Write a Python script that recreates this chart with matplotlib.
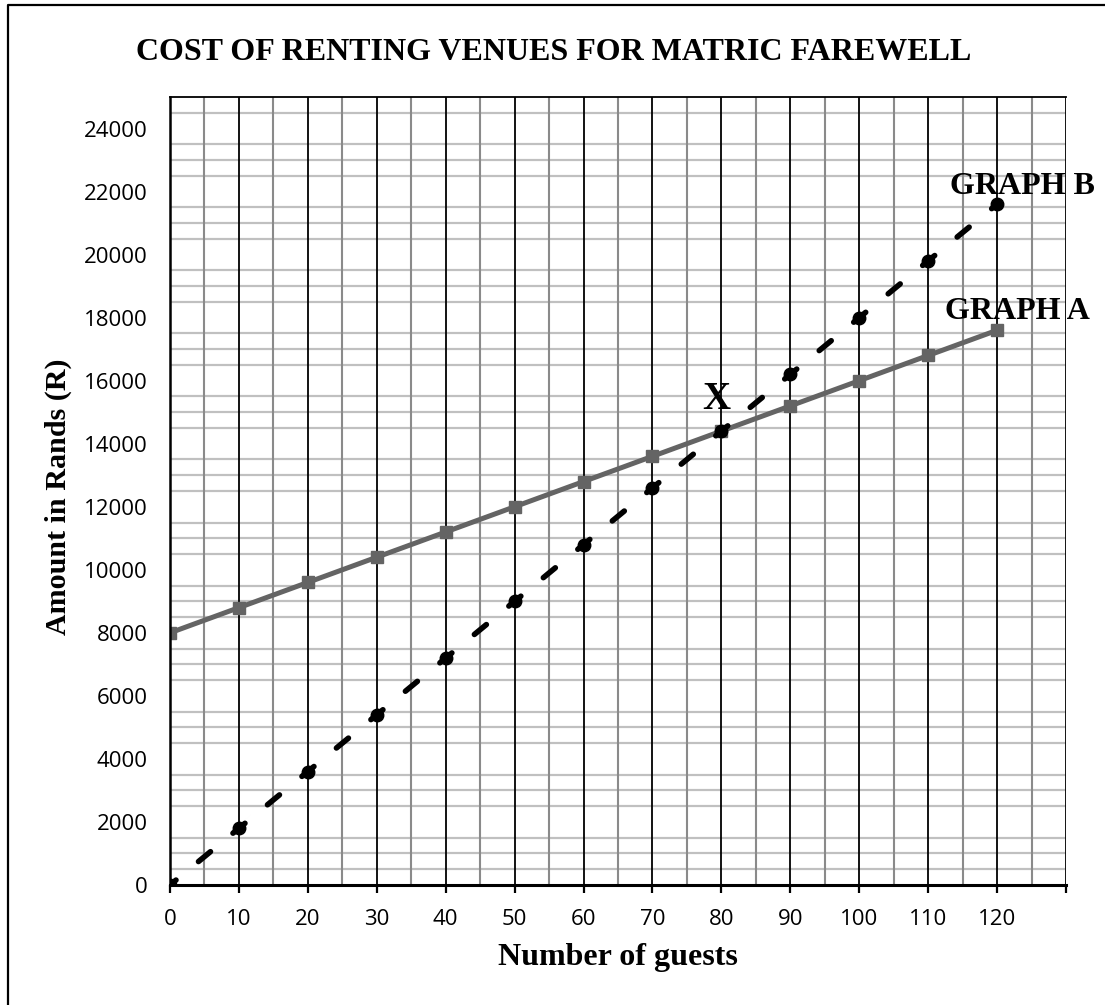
import matplotlib
matplotlib.use("Agg")
import matplotlib.pyplot as plt
from matplotlib.lines import Line2D

# ---- data ----
guests = [0, 10, 20, 30, 40, 50, 60, 70, 80, 90, 100, 110, 120]
graph_a = [8000, 8800, 9600, 10400, 11200, 12000, 12800, 13600, 14400, 15200, 16000, 16800, 17600]
graph_b = [0, 1800, 3600, 5400, 7200, 9000, 10800, 12600, 14400, 16200, 18000, 19800, 21600]
x_ticks = [0, 10, 20, 30, 40, 50, 60, 70, 80, 90, 100, 110, 120, 130]
x_tick_labels = ["0", "10", "20", "30", "40", "50", "60", "70", "80", "90", "100", "110", "120", ""]
y_ticks = [0, 2000, 4000, 6000, 8000, 10000, 12000, 14000, 16000, 18000, 20000, 22000, 24000]
y_tick_labels = [str(v) for v in y_ticks]
title = "COST OF RENTING VENUES FOR MATRIC FAREWELL"
x_label = "Number of guests"
y_label = "Amount in Rands (R)"

W, H = 1105, 1005
fig = plt.figure(figsize=(W / 100, H / 100), dpi=100)
ax = fig.add_axes([170 / W, 1 - 885 / H, 896 / W, 788 / H])
ax.set_xlim(0, 130)
ax.set_ylim(0, 25000)

# grid lines
for v in range(500, 25000, 500):
    if v % 2000 != 0:
        ax.axhline(v, color="#c0c0c0", lw=1.6, zorder=1)
for v in range(5, 130, 10):
    ax.axvline(v, color="#8a8a8a", lw=1.5, zorder=1.2)
for v in range(10, 131, 10):
    ax.axvline(v, color="black", lw=1.3, zorder=1.3)

# series
ax.plot(guests, graph_a, color="#646464", lw=3.6, marker="s", markersize=9,
        zorder=3, solid_capstyle="butt")
ax.plot(guests, graph_b, color="black", lw=4.0, linestyle=(1.4, (2.8, 5.24)),
        dash_capstyle="round", marker="o", markersize=9, zorder=4)

# spines
for s in ["top", "right"]:
    ax.spines[s].set_visible(False)
ax.spines["left"].set_linewidth(1.8)
ax.spines["bottom"].set_linewidth(2.2)
ax.spines["left"].set_zorder(5)
ax.spines["bottom"].set_zorder(5)
ax.plot([0, 130], [25000, 25000], color="black", lw=1.3, clip_on=False, zorder=5)

ax.set_xticks(x_ticks)
ax.set_xticklabels(x_tick_labels)
ax.set_yticks(y_ticks)
ax.set_yticklabels(y_tick_labels)
ax.tick_params(axis="x", length=6, width=1.6, pad=11, labelsize=16)
ax.tick_params(axis="y", length=0, pad=16, labelsize=16)
for lab in ax.get_xticklabels() + ax.get_yticklabels():
    lab.set_fontfamily("Open Sans")

serif = "Liberation Serif"
ax.text(113.2, 22150, "GRAPH B", fontsize=23, fontweight="bold", family=serif,
        ha="left", va="center", zorder=6, clip_on=False)
ax.text(112.5, 18200, "GRAPH A", fontsize=23, fontweight="bold", family=serif,
        ha="left", va="center", zorder=6, clip_on=False)
ax.text(79.2, 15400, "X", fontsize=28, fontweight="bold", family=serif,
        ha="center", va="center", zorder=6)

fig.text(554 / W, 1 - 53 / H, title, fontsize=23, fontweight="bold", family=serif,
         ha="center", va="center")
fig.text(618 / W, 1 - 957 / H, x_label, fontsize=23, fontweight="bold", family=serif,
         ha="center", va="center")
fig.text(58 / W, 1 - 497 / H, y_label, fontsize=21.6, fontweight="bold", family=serif,
         ha="center", va="center", rotation=90)

# outer border (left and top)
fig.add_artist(Line2D([8 / W, 8 / W, 1], [0, 1 - 5 / H, 1 - 5 / H], color="black", lw=1.6))

fig.savefig("out.png", dpi=100)
